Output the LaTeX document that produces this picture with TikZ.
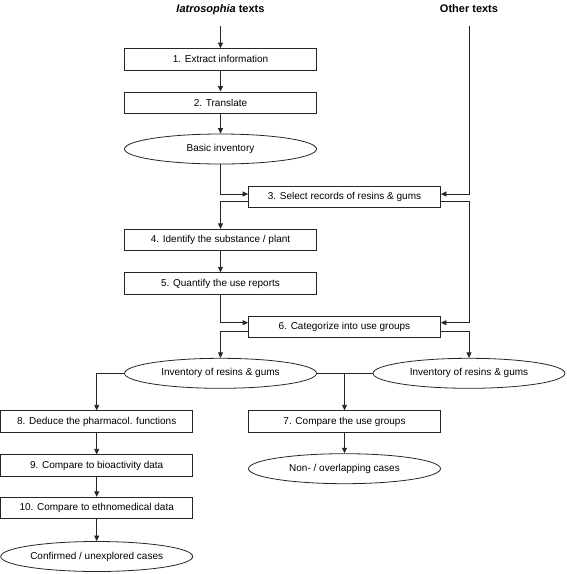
\documentclass[tikz,border=0pt]{standalone}
\usepackage{fontspec}
\setmainfont{Liberation Sans}
\usetikzlibrary{shapes.geometric,arrows.meta}
\begin{document}
\begin{tikzpicture}[x=1pt,y=-1pt,
  stepbox/.style={draw=black!85, line width=0.8pt, minimum width=192pt, minimum height=21.5pt, inner sep=0pt, font=\fontsize{10}{12}\selectfont},
  oval/.style={draw=black!85, line width=0.8pt, ellipse, minimum width=192pt, minimum height=30pt, inner sep=0pt, font=\fontsize{10}{12}\selectfont},
  ttl/.style={anchor=base, inner sep=0pt, font=\fontsize{11}{13}\selectfont\bfseries},
  arr/.style={draw=black!85, line width=0.8pt, -{Triangle[length=5.5pt,width=5pt]}},
  ln/.style={draw=black!85, line width=0.8pt}]
\useasboundingbox (0,0) rectangle (567,574);
% titles
\node[ttl] (t1) at (220.5,12) {\textit{Iatrosophia} texts};
\node[ttl] (t2) at (469,12) {Other texts};
\coordinate (a0) at (220.5,26);
\coordinate (o0) at (469,26);
% left column
\node[stepbox] (b1) at (220.5,59.3) {1. Extract information};
\node[stepbox] (b2) at (220.5,102.7) {2. Translate};
\node[oval] (e0) at (220.5,149) {Basic inventory};
\node[stepbox] (b3) at (344.5,196.7) {3. Select records of resins \& gums};
\node[stepbox] (b4) at (220.5,240) {4. Identify the substance / plant};
\node[stepbox] (b5) at (220.5,283.5) {5. Quantify the use reports};
\node[stepbox] (b6) at (344.5,326.7) {6. Categorize into use groups};
\node[oval] (i1) at (220.5,373.3) {Inventory of resins \& gums};
\node[oval] (i2) at (469,373.3) {Inventory of resins \& gums};
\node[stepbox] (b8) at (96.7,421.5) {8. Deduce the pharmacol. functions};
\node[stepbox] (b9) at (96.7,465.5) {9. Compare to bioactivity data};
\node[stepbox] (b10) at (96.7,508) {10. Compare to ethnomedical data};
\node[oval] (c1) at (96.7,556.5) {Confirmed / unexplored cases};
\node[stepbox] (b7) at (344.5,421.5) {7. Compare the use groups};
\node[oval] (n1) at (344.5,468.7) {Non- / overlapping cases};
% helper coordinates
\path ([yshift=2.7pt]b3.west) coordinate (b3wi)
      ([yshift=2.7pt]b3.east) coordinate (b3ei)
      ([yshift=-5pt]b3.west) coordinate (b3wo)
      ([yshift=-5pt]b3.east) coordinate (b3eo)
      ([yshift=4pt]b6.west) coordinate (b6wi)
      ([yshift=4pt]b6.east) coordinate (b6ei)
      ([yshift=-5pt]b6.west) coordinate (b6wo)
      ([yshift=-5pt]b6.east) coordinate (b6eo);
% connectors
\draw[arr] (a0) -- (b1);
\draw[arr] (b1) -- (b2);
\draw[arr] (b2) -- (e0);
\draw[arr] (e0.south) |- (b3wi);
\draw[arr] (o0) |- (b3ei);
\draw[arr] (b3wo) -| (b4.north);
\draw[arr] (b3eo) -| (o0 |- b6ei) -- (b6ei);
\draw[arr] (b4) -- (b5);
\draw[arr] (b5.south) |- (b6wi);
\draw[arr] (b6wo) -| (i1.north);
\draw[arr] (b6eo) -| (i2.north);
\draw[ln] (i1.east) -- (i2.west);
\draw[arr] (i1.west) -| (b8.north);
\draw[arr] (b7.north |- i1.east) -- (b7.north);
\draw[arr] (b7) -- (n1);
\draw[arr] (b8) -- (b9);
\draw[arr] (b9) -- (b10);
\draw[arr] (b10) -- (c1);
\end{tikzpicture}
\end{document}
